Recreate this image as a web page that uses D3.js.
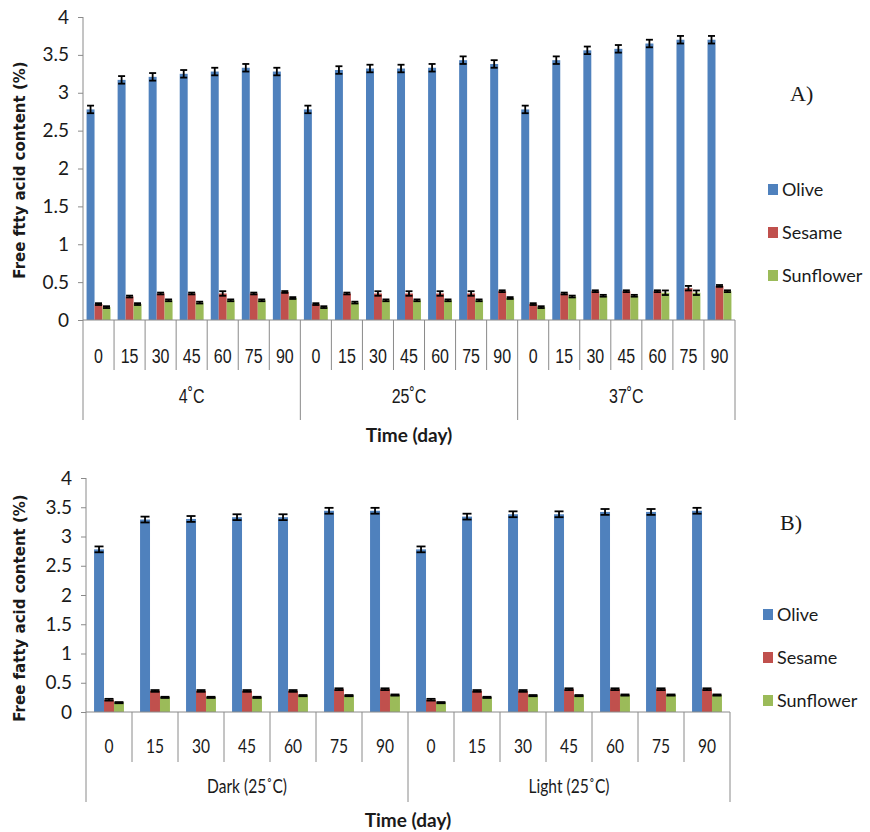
<!DOCTYPE html>
<html>
<head>
<meta charset="utf-8">
<script src="https://cdn.jsdelivr.net/npm/d3@7"></script>
<style>
    body { margin: 0; background: #fff; }
</style>
</head>
<body>
<div id="chart"></div>
<script>
// ---- data ----
const days = ["0", "15", "30", "45", "60", "75", "90"];
const seriesNames = ["Olive", "Sesame", "Sunflower"];
const seriesColors = ["#4F81BD", "#C0504D", "#9BBB59"];
const yTicks = [0, 0.5, 1, 1.5, 2, 2.5, 3, 3.5, 4];

// panel A: storage temperature
const groupsA = ["4˚C", "25˚C", "37˚C"];
const oliveA = [2.78, 3.17, 3.21, 3.25, 3.28, 3.33, 3.28,
                2.78, 3.30, 3.32, 3.32, 3.33, 3.43, 3.38,
                2.78, 3.43, 3.56, 3.58, 3.65, 3.70, 3.70];
const sesameA = [0.21, 0.31, 0.35, 0.35, 0.35, 0.35, 0.37,
                 0.21, 0.35, 0.35, 0.35, 0.35, 0.35, 0.38,
                 0.21, 0.35, 0.38, 0.38, 0.38, 0.42, 0.45];
const sunflowerA = [0.17, 0.21, 0.26, 0.23, 0.26, 0.26, 0.29,
                    0.17, 0.23, 0.26, 0.26, 0.26, 0.26, 0.29,
                    0.17, 0.31, 0.32, 0.32, 0.36, 0.36, 0.38];
const oliveErrA = [0.05, 0.05, 0.05, 0.05, 0.05, 0.05, 0.05,
                   0.05, 0.05, 0.05, 0.05, 0.05, 0.05, 0.05,
                   0.05, 0.05, 0.05, 0.05, 0.05, 0.05, 0.05];
const sesameErrA = [0.012, 0.012, 0.012, 0.012, 0.03, 0.012, 0.012,
                    0.012, 0.012, 0.03, 0.03, 0.03, 0.03, 0.012,
                    0.012, 0.012, 0.012, 0.012, 0.012, 0.03, 0.012];
const sunflowerErrA = [0.012, 0.012, 0.012, 0.012, 0.012, 0.012, 0.012,
                       0.012, 0.012, 0.012, 0.012, 0.012, 0.012, 0.012,
                       0.012, 0.012, 0.012, 0.012, 0.03, 0.03, 0.012];

// panel B: dark vs light
const groupsB = ["Dark (25˚C)", "Light (25˚C)"];
const oliveB = [2.78, 3.29, 3.30, 3.33, 3.33, 3.44, 3.44,
                2.78, 3.34, 3.38, 3.38, 3.42, 3.42, 3.44];
const sesameB = [0.21, 0.36, 0.36, 0.36, 0.36, 0.39, 0.39,
                 0.21, 0.36, 0.36, 0.39, 0.39, 0.39, 0.39];
const sunflowerB = [0.16, 0.25, 0.25, 0.25, 0.28, 0.28, 0.29,
                    0.16, 0.25, 0.28, 0.28, 0.29, 0.29, 0.29];
const oliveErrB = [0.05, 0.05, 0.05, 0.05, 0.05, 0.05, 0.05,
                   0.05, 0.05, 0.05, 0.05, 0.05, 0.05, 0.05];
const sesameErrB = [0.015, 0.015, 0.015, 0.015, 0.015, 0.015, 0.015,
                    0.015, 0.015, 0.015, 0.015, 0.015, 0.015, 0.015];
const sunflowerErrB = [0.01, 0.01, 0.01, 0.01, 0.01, 0.01, 0.01,
                       0.01, 0.01, 0.01, 0.01, 0.01, 0.01, 0.01];

const svg = d3.select("#chart").append("svg")
    .attr("width", 870)
    .attr("height", 832);

function drawPanel(cfg) {
    let g = svg.append("g");
    let values = [cfg.olive, cfg.sesame, cfg.sunflower];
    let errors = [cfg.oliveErr, cfg.sesameErr, cfg.sunflowerErr];
    let nCat = cfg.groups.length * days.length;

    // one row per category (group + day)
    let rows = d3.range(nCat).map(i => ({
        i: i,
        day: days[i % days.length],
        vals: seriesNames.map((s, k) => ({k: k, v: values[k][i], e: errors[k][i]}))
    }));

    let x = d3.scaleBand()
        .domain(d3.range(nCat))
        .range([cfg.x0, cfg.x1]);
    let cw = x.bandwidth();
    let side = cw * (1 - cfg.frac) / 2;
    let xSub = d3.scaleBand()
        .domain(d3.range(3))
        .range([side, cw - side]);
    let y = d3.scaleLinear()
        .domain([0, 4])
        .range([cfg.y0, cfg.yTop]);

    // y axis
    let yAxis = d3.axisLeft(y)
        .tickValues(yTicks)
        .tickSize(5)
        .tickPadding(9)
        .tickFormat(d3.format(""));
    let yg = g.append("g")
        .attr("transform", "translate(" + cfg.x0 + ",0)")
        .call(yAxis);
    yg.select(".domain").attr("stroke", "#8a8a8a").attr("d", "M0," + cfg.yTop + "V" + cfg.y0);
    yg.selectAll(".tick line").attr("stroke", "#8a8a8a");
    yg.selectAll(".tick text")
        .attr("font-family", "Lato, 'Open Sans', sans-serif")
        .attr("font-size", 19)
        .attr("fill", "#1a1a1a");

    // bars
    let cat = g.selectAll(".cat")
        .data(rows)
        .enter().append("g")
        .attr("transform", d => "translate(" + x(d.i) + ",0)");
    cat.selectAll("rect")
        .data(d => d.vals)
        .enter().append("rect")
        .attr("x", d => xSub(d.k))
        .attr("width", xSub.bandwidth())
        .attr("y", d => y(d.v))
        .attr("height", d => cfg.y0 - y(d.v))
        .attr("fill", d => seriesColors[d.k]);

    // error bars
    let eb = cat.selectAll(".err")
        .data(d => d.vals)
        .enter().append("g")
        .attr("stroke", "#000")
        .attr("stroke-width", 1.8);
    let cx = d => xSub(d.k) + xSub.bandwidth() / 2;
    let half = cfg.capW / 2;
    eb.append("line")
        .attr("x1", cx).attr("x2", cx)
        .attr("y1", d => y(d.v + d.e)).attr("y2", d => y(d.v - d.e));
    eb.append("line")
        .attr("x1", d => cx(d) - half).attr("x2", d => cx(d) + half)
        .attr("y1", d => y(d.v + d.e)).attr("y2", d => y(d.v + d.e));
    eb.append("line")
        .attr("x1", d => cx(d) - half).attr("x2", d => cx(d) + half)
        .attr("y1", d => y(d.v - d.e)).attr("y2", d => y(d.v - d.e));

    // x axis with multi-level category dividers
    g.append("line")
        .attr("x1", cfg.x0).attr("x2", cfg.x1)
        .attr("y1", cfg.y0).attr("y2", cfg.y0)
        .attr("stroke", "#8a8a8a");
    d3.range(nCat + 1).forEach(i => {
        let isGroup = i % days.length === 0;
        let xx = cfg.x0 + i * cw;
        g.append("line")
            .attr("x1", xx).attr("x2", xx)
            .attr("y1", cfg.y0)
            .attr("y2", cfg.y0 + (isGroup ? cfg.groupLen : cfg.divLen))
            .attr("stroke", "#8a8a8a");
    });
    // narrow category labels (squeezed horizontally)
    g.selectAll(".daylabel")
        .data(rows)
        .enter().append("text")
        .attr("transform", d => "translate(" + (x(d.i) + cw / 2) + "," + cfg.dayY + ") scale(" + cfg.squeeze + ",1)")
        .attr("text-anchor", "middle")
        .attr("font-family", cfg.dayFont)
        .attr("font-size", cfg.daySize)
        .attr("fill", "#1a1a1a")
        .text(d => d.day);
    g.selectAll(".grouplabel")
        .data(cfg.groups)
        .enter().append("text")
        .attr("transform", (d, j) => "translate(" + (cfg.x0 + (j + 0.5) * days.length * cw) + "," + cfg.groupY + ") scale(" + cfg.squeeze + ",1)")
        .attr("text-anchor", "middle")
        .attr("font-family", cfg.dayFont)
        .attr("font-size", cfg.daySize)
        .attr("fill", "#1a1a1a")
        .text(d => d);

    // axis titles
    g.append("text")
        .attr("x", (cfg.x0 + cfg.x1) / 2)
        .attr("y", cfg.titleY)
        .attr("text-anchor", "middle")
        .attr("font-family", "Lato, sans-serif")
        .attr("font-weight", "bold")
        .attr("font-size", 19)
        .attr("fill", "#1a1a1a")
        .text("Time (day)");
    g.append("text")
        .attr("transform", "translate(" + 25 + "," + cfg.yLabelY + ") rotate(-90)")
        .attr("text-anchor", "middle")
        .attr("font-family", "'DejaVu Sans', Verdana, sans-serif")
        .attr("font-weight", "bold")
        .attr("font-size", 15)
        .attr("fill", "#1a1a1a")
        .text(cfg.yLabel);

    // legend
    let lg = g.append("g")
        .attr("transform", "translate(" + cfg.legX + "," + cfg.legY + ")");
    seriesNames.forEach((s, k) => {
        lg.append("rect")
            .attr("x", 0).attr("y", k * 43 - 6)
            .attr("width", 10).attr("height", 11)
            .attr("fill", seriesColors[k]);
        lg.append("text")
            .attr("x", 14).attr("y", k * 43 + 6)
            .attr("font-family", "Lato, sans-serif")
            .attr("font-size", 18)
            .attr("fill", "#1a1a1a")
            .text(s);
    });

    // panel letter
    g.append("text")
        .attr("x", cfg.tagX).attr("y", cfg.tagY)
        .attr("font-family", "'Liberation Serif', 'Times New Roman', serif")
        .attr("font-size", 22)
        .attr("fill", "#1a1a1a")
        .text(cfg.tag);
}

drawPanel({
    groups: groupsA,
    olive: oliveA, sesame: sesameA, sunflower: sunflowerA,
    oliveErr: oliveErrA, sesameErr: sesameErrA, sunflowerErr: sunflowerErrA,
    x0: 83, x1: 735, yTop: 17, y0: 320, frac: 0.77, capW: 7,
    dayY: 363, divLen: 50, groupY: 403, groupLen: 100, titleY: 442,
    dayFont: "'Liberation Sans', Arial, sans-serif", daySize: 20, squeeze: 0.8,
    yLabel: "Free ftty acid content (%)", yLabelY: 170,
    legX: 768, legY: 190, tag: "A)", tagX: 790, tagY: 101
});

drawPanel({
    groups: groupsB,
    olive: oliveB, sesame: sesameB, sunflower: sunflowerB,
    oliveErr: oliveErrB, sesameErr: sesameErrB, sunflowerErr: sunflowerErrB,
    x0: 86, x1: 730, yTop: 478, y0: 712, frac: 0.65, capW: 9,
    dayY: 753, divLen: 50, groupY: 793, groupLen: 90, titleY: 827,
    dayFont: "Lato, sans-serif", daySize: 19, squeeze: 0.82,
    yLabel: "Free fatty acid content (%)", yLabelY: 608,
    legX: 763, legY: 615, tag: "B)", tagX: 780, tagY: 530
});
</script>
</body>
</html>
